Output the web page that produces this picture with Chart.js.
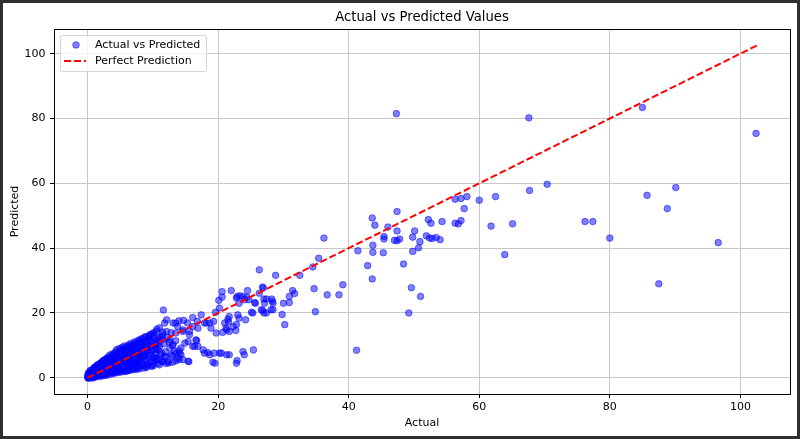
<!DOCTYPE html>
<html>
<head>
<meta charset="utf-8">
<script src="https://cdn.jsdelivr.net/npm/chart.js@4.4.1/dist/chart.umd.min.js"></script>
<style>
  html, body { margin: 0; padding: 0; background: #2f2f2f; }
  #frame { position: absolute; left: 3px; top: 3px; width: 794px; height: 433px; background: #fff; }
</style>
</head>
<body>
<div id="frame"><canvas id="chart"></canvas></div>
<script>
// [actual, predicted] pairs
// dense blob near the origin
const lowCluster = [
  [0.0,0.0],[0.1,0.4],[0.2,1.1],[0.3,0.2],[0.3,1.7],[0.4,0.7],[0.5,2.1],[0.5,0.1],[0.6,1.3],[0.7,0.5],
  [0.7,2.4],[0.8,1.0],[0.8,1.9],[0.9,0.3],[0.9,2.6],[0.1,1.5],[0.2,0.6],[0.4,2.3],[0.6,0.9],[1.0,1.6],
  [1.0,0.4],[1.1,2.9],[1.2,1.2],[1.2,3.3],[1.3,0.6],[1.3,2.2],[1.4,3.8],[1.5,1.5],[1.5,0.5],[1.6,2.7],
  [1.6,4.1],[1.7,1.0],[1.8,3.4],[1.8,0.8],[1.9,2.0],[1.9,4.4],[1.1,1.8],[1.4,2.5],
  [2.0,1.2],[2.0,3.6],[2.1,0.8],[2.1,4.7],[2.2,2.4],[2.3,5.2],[2.3,1.0],[2.4,3.0],[2.5,4.3],[2.5,1.6],
  [2.6,5.6],[2.6,2.2],[2.7,0.9],[2.7,3.7],[2.8,4.9],[2.8,1.4],[2.9,2.9],[2.9,5.9],
  [3.0,1.3],[3.0,4.2],[3.1,2.5],[3.1,6.3],[3.2,3.4],[3.3,1.7],[3.3,5.4],[3.4,7.0],[3.5,2.8],[3.5,4.6],
  [3.6,1.5],[3.6,6.0],[3.7,3.8],[3.8,7.4],[3.8,2.2],[3.9,5.1],[3.9,1.9],[3.4,3.9],
  [4.0,2.6],[4.0,6.4],[4.1,4.1],[4.2,1.7],[4.2,7.8],[4.3,5.2],[4.4,3.1],[4.4,8.6],[4.5,6.7],[4.6,2.1],
  [4.6,4.6],[4.7,7.5],[4.8,3.6],[4.8,9.0],[4.9,5.8],[4.9,2.4],[4.3,3.5],[4.7,1.9],
  [5.0,4.3],[5.0,8.1],[5.1,2.2],[5.2,6.2],[5.3,9.4],[5.3,3.4],[5.4,5.3],[5.5,7.3],[5.5,2.6],[5.6,9.8],
  [5.7,4.4],[5.8,6.8],[5.8,2.1],[5.9,8.6],[5.9,3.7],[5.2,5.0],[5.6,6.0],
  [6.0,3.0],[6.0,7.9],[6.1,5.5],[6.2,10.1],[6.3,2.4],[6.3,6.6],[6.4,4.3],[6.5,8.9],[6.6,3.2],[6.6,10.6],
  [6.7,5.8],[6.8,7.6],[6.9,2.7],[6.9,9.5],[6.4,7.2],[6.7,4.8],
  [7.0,4.0],[7.0,8.7],[7.1,6.2],[7.2,11.1],[7.3,3.1],[7.4,7.3],[7.5,5.1],[7.5,10.0],[7.6,2.8],[7.7,8.2],
  [7.8,11.6],[7.8,4.5],[7.9,6.7],[7.2,9.4],[7.6,6.0],
  [8.0,3.5],[8.0,9.6],[8.1,6.1],[8.2,12.0],[8.3,4.8],[8.4,8.0],[8.5,10.8],[8.6,3.0],[8.7,6.9],[8.8,12.7],
  [8.9,5.3],[8.9,9.1],[8.3,7.0],
  [9.1,4.0],[9.2,8.4],[9.3,11.8],[9.4,6.0],[9.6,13.4],[9.7,3.6],[9.8,9.9],[10.1,5.2],[10.2,12.7],[10.4,7.6],
  [10.6,15.0],[10.8,4.4],[10.9,10.5],[10.5,9.0]
];

// more points inside the same blob, where it is darkest
const lowClusterCore = [
  [0.2,0.2],[0.3,0.9],[0.4,1.4],[0.5,0.4],[0.6,1.8],[0.7,1.1],[0.8,0.6],[0.9,1.4],[1.0,2.2],[1.1,0.9],
  [1.2,2.0],[1.3,1.5],[1.4,0.9],[1.5,2.9],[1.6,1.2],[1.7,2.3],[1.8,1.6],[1.9,3.0],[0.1,0.1],[0.3,0.5],
  [0.0,0.7],[0.2,-0.2],[0.5,0.8],[0.8,-0.1],[1.2,0.2],
  [2.0,2.0],[2.1,3.1],[2.2,1.6],[2.3,2.7],[2.4,4.1],[2.5,2.0],[2.6,3.4],[2.7,2.5],[2.8,3.0],[2.9,1.9],
  [3.0,3.3],[3.1,1.9],[3.2,4.7],[3.3,2.8],[3.4,5.8],[3.5,3.5],[3.6,2.4],[3.7,4.9],[3.8,3.1],[3.9,6.4],
  [2.2,4.0],[2.6,1.1],[3.0,2.2],[3.6,3.6],
  [4.0,3.6],[4.1,5.0],[4.2,2.6],[4.3,6.6],[4.4,4.0],[4.5,3.3],[4.6,5.6],[4.7,3.0],[4.8,6.5],[4.9,4.4],
  [5.0,3.1],[5.1,5.4],[5.2,7.2],[5.3,4.4],[5.4,2.9],[5.5,6.3],[5.6,3.9],[5.7,8.0],[5.8,5.0],[5.9,6.2],
  [4.4,5.4],[4.9,7.2],[5.4,8.6],[5.0,5.6],
  [6.0,4.3],[6.1,6.9],[6.2,3.6],[6.3,8.6],[6.4,5.4],[6.5,3.9],[6.6,7.4],[6.7,9.3],[6.8,4.6],[6.9,6.5],
  [7.0,5.6],[7.1,10.0],[7.2,4.3],[7.3,8.3],[7.4,6.0],[7.5,3.8],[7.6,9.0],[7.7,5.3],[7.8,7.3],[7.9,10.9],
  [6.2,5.8],[7.0,7.1],
  [8.0,5.1],[8.1,7.8],[8.2,10.6],[8.4,6.4],[8.5,4.0],[8.6,9.4],[8.8,7.6],[9.0,11.3],[9.0,5.6],[9.2,9.8],
  [9.5,7.0],[9.6,4.7],[9.8,8.2],[10.0,11.1],[10.0,6.3],[10.3,10.0],[10.6,5.6],[10.8,12.3],[11.0,9.6],[11.2,7.2],
  [11.5,14.1],[11.7,10.5],[11.9,8.0],[12.2,12.5],[12.4,4.6],[12.8,13.9],[13.0,9.9],[11.0,15.4],[10.1,13.9],[9.4,12.6]
];

// edges and middle of the blob, filled in more
const lowClusterEdge = [
  [2.0,0.4],[2.5,0.7],[3.0,0.8],[3.5,1.1],[4.0,1.3],[4.5,1.6],[5.0,1.7],[5.5,1.9],[6.0,2.0],[6.5,2.3],
  [7.0,2.5],[7.5,2.6],[8.0,2.8],[9.0,3.2],[10.0,3.6],[11.0,4.0],[12.0,4.4],[13.0,4.8],[13.5,5.2],[14.0,5.6],
  [1.0,3.2],[1.5,3.9],[2.0,4.5],[2.5,5.3],[3.0,5.9],[3.5,6.5],[4.0,7.1],[4.5,7.8],[5.0,8.6],[5.5,9.0],
  [6.0,9.4],[6.5,9.9],[7.0,10.4],[7.5,11.0],[8.0,11.5],[8.5,12.1],[9.0,12.6],[9.5,13.0],[10.0,13.6],[10.5,14.3],
  [1.5,2.1],[2.5,2.8],[3.5,4.2],[4.5,4.9],[5.5,5.7],[6.5,6.1],[7.5,7.7],[8.5,8.6],[9.5,9.3],[10.5,10.6],
  [11.5,11.9],[12.5,11.0],[12.0,6.5],[13.0,6.8],[14.0,8.4],[13.5,11.4]
];

// spread between actual 8 and 30
const midCluster = [
  [11.6,20.9],[13.5,16.9],[14.0,17.6],[14.7,17.7],[15.3,16.9],[16.1,18.6],[16.8,17.4],[17.4,19.4],[17.9,16.9],[18.7,16.9],
  [19.3,17.4],[19.6,20.2],[20.2,21.5],[20.1,23.9],[20.6,24.9],[20.6,26.6],[22.0,26.9],[22.8,24.6],[23.3,25.3],[24.0,24.1],
  [24.4,24.9],[25.6,23.2],[26.3,26.1],[27.1,23.0],[27.0,20.0],[25.3,20.0],[24.2,17.9],[23.2,18.4],[22.8,16.4],[21.6,17.2],
  [21.3,14.8],[20.7,14.0],[21.7,14.3],[22.7,14.6],[21.5,18.1],[21.0,16.9],[19.4,7.6],[20.2,7.6],[21.3,7.1],[21.7,7.1],
  [22.9,5.3],[23.8,8.1],[24.0,7.1],[25.4,8.6],[17.9,7.6],[18.7,7.1],[16.4,9.7],[16.7,11.5],[15.5,5.0],[15.4,5.1],
  [26.8,28.0],[22.9,25.1],[23.2,23.0],[23.8,25.1],[24.5,26.9],[24.7,24.1],[25.7,23.0],[27.4,24.3],[28.3,23.6],[26.8,20.8],
  [28.1,21.0],[23.0,19.4],[25.1,20.2],[21.7,18.9],[18.2,16.9],[18.9,15.3],[19.7,13.8],[21.2,15.3],[22.3,15.8],[16.6,11.7],
  [16.9,9.7],[17.7,8.6],[18.4,7.8],[20.5,7.6],[19.2,4.8],[22.8,4.5],[19.5,4.5],
  [8.2,9.2],[9.0,10.7],[8.5,7.1],[9.5,7.6],[10.3,6.1],[10.8,8.6],[10.0,4.0],[11.0,5.6],[11.8,6.6],[12.3,5.0],
  [12.8,7.1],[13.3,8.1],[13.8,6.1],[14.3,9.2],[14.9,10.7],[15.4,11.2],[13.5,13.8],[12.1,14.3],[11.8,16.9],[11.3,12.7],
  [10.5,11.7],[9.5,11.7],[8.7,9.7],[13.1,10.2],[14.1,7.6],[12.6,11.7],[14.6,14.8],[15.6,14.3],[16.1,15.8],[16.9,15.3],
  [11.5,5.0],[11.5,5.1],[9.0,3.5],[9.8,10.7],[10.3,8.6],[10.5,6.1],[11.3,7.6],[12.6,9.2],[13.6,7.6],[14.3,7.1],
  [14.6,5.6],[16.1,9.7],[15.6,13.3],[14.6,14.3],[13.8,15.8],[13.1,16.9],[12.1,17.9],[11.5,13.3],[11.0,11.7]
];

// sparse points above actual 26
const highCluster = [
  [47.3,81.5],[85.0,83.4],[67.6,80.2],[102.4,75.4],[70.4,59.7],[67.7,57.8],[90.1,58.7],[85.7,56.3],[88.8,52.2],[62.5,55.9],
  [60.0,54.8],[58.1,55.9],[57.2,55.3],[56.3,55.1],[57.7,52.2],[57.2,48.5],[56.3,47.7],[56.8,47.5],[54.3,48.2],[52.2,48.8],
  [52.6,47.7],[50.1,45.3],[49.8,43.4],[51.9,43.8],[52.4,43.1],[52.8,43.0],[53.4,43.3],[54.0,42.6],[47.8,42.8],[50.9,42.0],
  [50.7,40.1],[49.8,39.0],[48.4,35.1],[49.6,27.8],[51.0,25.1],[49.2,20.0],[61.8,46.8],[65.1,47.5],[63.9,38.0],[76.2,48.2],
  [77.4,48.2],[80.0,43.1],[96.6,41.7],[87.5,29.0],[47.4,51.3],[43.6,49.3],[44.0,47.1],[46.0,46.5],[47.4,45.3],[45.4,43.6],
  [45.4,42.8],[47.0,42.4],[47.4,42.3],[43.7,40.9],[43.7,38.7],[45.3,38.6],[41.4,39.2],[42.9,34.6],[43.6,30.5],[36.2,43.1],
  [35.4,36.9],[34.5,34.2],[32.5,31.6],[28.8,31.6],[26.3,33.3],[26.9,27.7],[34.7,27.5],[39.1,28.7],[38.5,25.6],[36.7,25.6],
  [31.4,26.9],[31.7,26.0],[30.9,25.1],[30.9,23.2],[30.0,23.0],[28.2,24.3],[28.4,23.0],[27.0,24.3],[34.9,20.4],[29.8,19.5],
  [30.2,16.4],[28.4,21.0],[27.4,20.0],[26.6,21.0],[41.2,8.5]
];

// reference line y = x
const lineX = [0, 102.5];
const lineY = [0, 102.5];

const xTicks = [0, 20, 40, 60, 80, 100];
const yTicks = [0, 20, 40, 60, 80, 100];

const points = lowCluster.concat(lowClusterCore, lowClusterEdge, midCluster, highCluster)
  .map(p => ({ x: p[0], y: p[1] }));

Chart.defaults.font.family = '"DejaVu Sans", sans-serif';
Chart.defaults.color = '#000';

// box round the plot, like matplotlib spines
const spines = {
  id: 'spines',
  afterDraw(chart) {
    const { ctx, chartArea: a } = chart;
    ctx.save();
    ctx.strokeStyle = '#000';
    ctx.lineWidth = 1;
    ctx.strokeRect(Math.round(a.left) + 0.5, Math.round(a.top) + 0.5,
      Math.round(a.right - a.left), Math.round(a.bottom - a.top));
    ctx.restore();
  }
};

// legend in the upper left corner of the plot
const legendBox = {
  id: 'legendBox',
  afterDraw(chart) {
    const { ctx, chartArea: a } = chart;
    const sc = chart.data.datasets[0], ln = chart.data.datasets[1];
    const x0 = Math.round(a.left) + 6, y0 = Math.round(a.top) + 6;
    ctx.save();
    ctx.font = '11px "DejaVu Sans"';
    const w = 35 + Math.max(ctx.measureText(sc.label).width, ctx.measureText(ln.label).width) + 6;
    ctx.beginPath();
    ctx.roundRect(x0 + 0.5, y0 + 0.5, Math.round(w), 36, 2);
    ctx.fillStyle = 'rgba(255,255,255,0.8)';
    ctx.fill();
    ctx.strokeStyle = '#d4d4d4';
    ctx.lineWidth = 1;
    ctx.stroke();

    ctx.beginPath();
    ctx.arc(x0 + 16, y0 + 10, 3.3, 0, Math.PI * 2);
    ctx.fillStyle = sc.backgroundColor;
    ctx.fill();
    ctx.strokeStyle = sc.borderColor;
    ctx.stroke();

    ctx.beginPath();
    ctx.setLineDash(ln.borderDash);
    ctx.moveTo(x0 + 4, y0 + 26);
    ctx.lineTo(x0 + 26, y0 + 26);
    ctx.strokeStyle = ln.borderColor;
    ctx.lineWidth = ln.borderWidth;
    ctx.stroke();
    ctx.setLineDash([]);

    ctx.fillStyle = '#000';
    ctx.textBaseline = 'middle';
    ctx.fillText(sc.label, x0 + 35, y0 + 10);
    ctx.fillText(ln.label, x0 + 35, y0 + 26);
    ctx.restore();
  }
};

new Chart(document.getElementById('chart'), {
  type: 'scatter',
  data: {
    datasets: [
      {
        label: 'Actual vs Predicted',
        data: points,
        backgroundColor: 'rgba(0,0,255,0.5)',
        borderColor: 'rgba(0,0,255,0.5)',
        borderWidth: 1,
        pointRadius: 3.3,
        order: 1
      },
      {
        label: 'Perfect Prediction',
        data: lineX.map((x, i) => ({ x: x, y: lineY[i] })),
        showLine: true,
        borderColor: '#ff0000',
        borderWidth: 2,
        borderDash: [7, 3],
        pointRadius: 0,
        order: 0
      }
    ]
  },
  options: {
    responsive: true,
    maintainAspectRatio: false,
    animation: false,
    events: [],
    layout: { padding: { left: 0, right: 7, top: 0, bottom: 0 } },
    plugins: {
      legend: { display: false },
      tooltip: { enabled: false },
      title: {
        display: true,
        text: 'Actual vs Predicted Values',
        fullSize: false,
        color: '#000',
        font: { size: 13.2, weight: 'normal' },
        padding: { top: 6.5, bottom: 3.7 }
      }
    },
    scales: {
      x: {
        type: 'linear',
        min: -5.15,
        max: 107.6,
        afterBuildTicks: s => { s.ticks = xTicks.map(v => ({ value: v })); },
        afterFit: s => { s.height = 42; },
        border: { display: false },
        grid: { color: '#c8c8c8', lineWidth: 1, tickColor: '#000', tickLength: 4 },
        ticks: { padding: 3, font: { size: 11 }, maxRotation: 0 },
        title: { display: true, text: 'Actual', font: { size: 11 }, padding: { top: 0, bottom: 6.4 } }
      },
      y: {
        type: 'linear',
        min: -5.0,
        max: 107.6,
        afterBuildTicks: s => { s.ticks = yTicks.map(v => ({ value: v })); },
        afterFit: s => { s.width = 51; },
        border: { display: false },
        grid: { color: '#c8c8c8', lineWidth: 1, tickColor: '#000', tickLength: 4 },
        ticks: { padding: 4.5, font: { size: 11 } },
        title: { display: true, text: 'Predicted', font: { size: 11 }, padding: { top: 5.4, bottom: 0 } }
      }
    }
  },
  plugins: [spines, legendBox]
});
</script>
</body>
</html>
